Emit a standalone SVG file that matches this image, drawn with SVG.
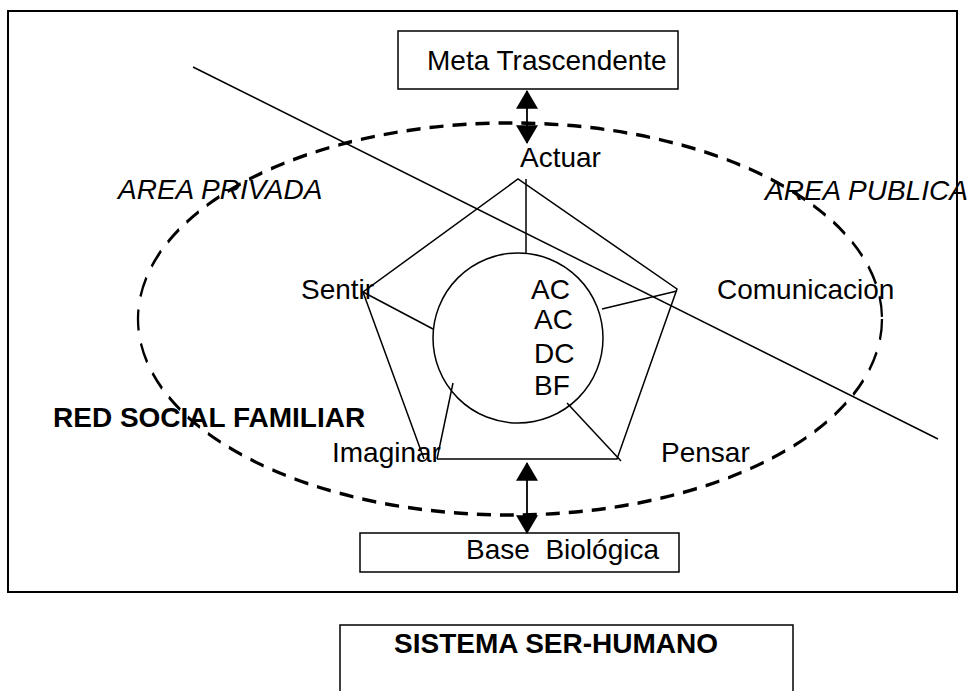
<svg xmlns="http://www.w3.org/2000/svg" width="977" height="691" viewBox="0 0 977 691">
<style>
text{font-family:"Liberation Sans",Arial,sans-serif;font-size:28px;fill:#000}
.b{font-weight:bold}
.i{font-style:italic}
.box{fill:#fff;stroke:#000;stroke-width:1.5}
.ln{fill:none;stroke:#000;stroke-width:1.5}
.dash{fill:none;stroke:#000;stroke-width:2.3;stroke-dasharray:14 9}
.arr{stroke:#000;stroke-width:1.8;marker-start:url(#ah);marker-end:url(#ah)}
</style>
<defs>
<marker id="ah" markerUnits="userSpaceOnUse" markerWidth="20" markerHeight="22" viewBox="0 0 18 21" refX="17" refY="10.5" orient="auto-start-reverse">
<path d="M0,0 L18,10.5 L0,21 z" fill="#000"/>
</marker>
</defs>
<rect width="977" height="691" fill="#fff"/>
<g id="marco"><rect x="8" y="11" width="949" height="581" fill="none" stroke="#000" stroke-width="2"/></g>
<g id="divisoria"><line class="ln" x1="193" y1="67" x2="938" y2="439"/></g>
<g id="red-social">
<ellipse class="dash" cx="0" cy="0" rx="372" ry="130.7" transform="translate(510 319) scale(1 1.5)"/>
<text class="b" x="53" y="427">RED SOCIAL FAMILIAR</text>
</g>
<g id="areas">
<text class="i" x="118" y="199">AREA PRIVADA</text>
<text class="i" x="765" y="200">AREA PUBLICA</text>
</g>
<g id="pentagono">
<polyline class="ln" points="424,459 363,292 518,179 677,289 617,459 437,459"/>
<line class="ln" x1="526" y1="179" x2="526" y2="253"/>
<line class="ln" x1="602" y1="309" x2="677" y2="291"/>
<line class="ln" x1="363" y1="292" x2="433" y2="329"/>
<line class="ln" x1="453" y1="383" x2="437" y2="459"/>
<line class="ln" x1="567" y1="403" x2="621" y2="461"/>
</g>
<g id="nucleo">
<circle class="ln" cx="518" cy="338" r="85"/>
<text x="531" y="299">AC</text>
<text x="534" y="329">AC</text>
<text x="534" y="363">DC</text>
<text x="534" y="395">BF</text>
</g>
<g id="actuar"><text x="520" y="167">Actuar</text></g>
<g id="sentir"><text x="301" y="299">Sentir</text></g>
<g id="comunicacion"><text x="717" y="299">Comunicacion</text></g>
<g id="imaginar"><text x="332" y="462">Imaginar</text></g>
<g id="pensar"><text x="661" y="462">Pensar</text></g>
<g id="meta">
<rect class="box" x="398" y="31" width="280" height="58"/>
<text x="427" y="70">Meta Trascendente</text>
</g>
<g id="base">
<rect class="box" x="360" y="533" width="319" height="39"/>
<text x="466" y="559" xml:space="preserve">Base  Biológica</text>
</g>
<g id="conectores">
<line class="arr" x1="527" y1="91" x2="527" y2="143"/>
<line class="arr" x1="527" y1="463" x2="527" y2="533"/>
</g>
<g id="sistema">
<rect class="box" x="340" y="625" width="453" height="80"/>
<text class="b" x="394" y="653">SISTEMA SER-HUMANO</text>
</g>
</svg>
